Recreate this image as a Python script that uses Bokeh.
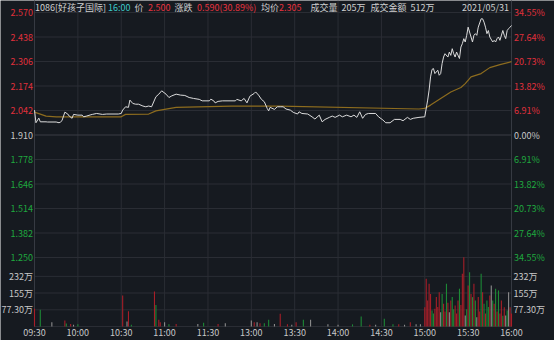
from bokeh.plotting import figure
from bokeh.models import Range1d, ColumnDataSource
from bokeh.core.properties import value
from bokeh.embed import file_html
from bokeh.resources import INLINE

# ---------------- data ----------------
time_ticks = [0, 30, 60, 90, 120, 150, 180, 210, 240, 270, 300, 330]
time_labels = ["09:30", "10:00", "10:30", "11:00", "11:30", "13:00",
               "13:30", "14:00", "14:30", "15:00", "15:30", "16:00"]
prev_close = 1.910
price_ticks = [2.570, 2.438, 2.306, 2.174, 2.042, 1.910, 1.778, 1.646, 1.514, 1.382, 1.250]
price_labels = ["2.570", "2.438", "2.306", "2.174", "2.042", "1.910",
                "1.778", "1.646", "1.514", "1.382", "1.250"]
pct_labels = ["34.55%", "27.64%", "20.73%", "13.82%", "6.91%", "0.00%",
              "6.91%", "13.82%", "20.73%", "27.64%", "34.55%"]
vol_ticks = [77.3, 155, 232]          # 万
vol_labels = ["77.30万", "155万", "232万"]

price_min = [0, 1, 3, 4, 8, 9, 15, 17, 18, 19, 21, 23, 24, 26, 27, 30, 33, 34, 36, 39,
             40, 43, 47, 50, 58, 60, 61, 63, 65, 66, 68, 70, 72, 75, 77, 79, 81, 84, 86, 88,
             91, 93, 95, 98, 101, 104, 107, 110, 114, 116, 121, 122, 124, 125, 127, 130, 139, 140, 143, 145,
             147, 149, 152, 153, 155, 157, 159, 161, 162, 163, 166, 168, 170, 172, 174, 177, 179, 182, 183, 185,
             189, 192, 194, 197, 199, 201, 204, 206, 208, 211, 213, 216, 219, 221, 223, 225, 227, 229, 231, 236,
             238, 241, 243, 246, 249, 253, 255, 258, 260, 262, 266, 270, 272, 273, 274, 275, 276, 277, 279, 280,
             281, 282, 283, 284, 286, 287, 288, 289, 290, 291, 292, 294, 295, 296, 297, 298, 299, 300, 302, 303,
             304, 305, 306, 307, 309, 310, 311, 312, 313, 314, 315, 317, 318, 319, 320, 321, 322, 324, 325, 326,
             327, 328, 329, 330]
price_val = [2.044, 1.976, 2.001, 1.981, 1.981, 1.980, 1.980, 1.976, 1.980, 1.987, 2.033, 2.023, 2.012, 2.000, 2.021, 2.017, 2.017, 2.008, 2.012, 2.019,
             2.021, 2.026, 2.021, 2.023, 2.023, 2.026, 2.044, 2.062, 2.059, 2.098, 2.080, 2.076, 2.076, 2.066, 2.062, 2.066, 2.062, 2.116, 2.130, 2.148,
             2.130, 2.112, 2.121, 2.130, 2.125, 2.123, 2.112, 2.107, 2.102, 2.094, 2.094, 2.103, 2.094, 2.083, 2.091, 2.094, 2.094, 2.102, 2.094, 2.107,
             2.083, 2.119, 2.134, 2.142, 2.125, 2.102, 2.089, 2.053, 2.040, 2.059, 2.048, 2.062, 2.062, 2.062, 2.050, 2.044, 2.032, 2.023, 2.035, 2.026,
             2.023, 2.008, 1.996, 2.017, 1.981, 1.994, 2.005, 2.012, 2.005, 2.017, 2.008, 2.017, 2.008, 2.017, 2.005, 2.035, 2.000, 2.021, 2.026, 2.026,
             2.008, 1.991, 1.976, 1.976, 1.994, 1.994, 1.987, 2.005, 1.994, 2.000, 2.005, 2.008, 2.098, 2.152, 2.223, 2.263, 2.268, 2.241, 2.259, 2.232,
             2.241, 2.295, 2.330, 2.348, 2.330, 2.357, 2.339, 2.375, 2.348, 2.330, 2.357, 2.322, 2.384, 2.402, 2.429, 2.411, 2.447, 2.491, 2.438, 2.411,
             2.447, 2.456, 2.447, 2.491, 2.536, 2.536, 2.518, 2.491, 2.456, 2.473, 2.438, 2.411, 2.420, 2.411, 2.429, 2.438, 2.420, 2.473, 2.447, 2.429,
             2.473, 2.483, 2.491, 2.500]

avg_min = [0, 8, 15, 60, 63, 79, 84, 98, 136, 170, 266, 270, 274, 281, 288, 295, 298, 302, 309, 315, 322, 330]
avg_val = [2.033, 2.012, 2.008, 2.008, 2.021, 2.023, 2.040, 2.059, 2.066, 2.066, 2.050, 2.053, 2.071, 2.107, 2.142, 2.166, 2.187, 2.223, 2.241, 2.273, 2.289, 2.305]

vol_min = [0, 4, 12, 21, 22, 25, 27, 30, 61, 64, 65, 67, 83, 84, 86, 87, 90, 93, 98, 113,
           117, 127, 132, 150, 152, 154, 156, 159, 162, 166, 170, 175, 178, 181, 186, 191, 203, 210, 220, 226,
           232, 236, 242, 248, 252, 256, 260, 264, 267,
           270, 271, 272, 273, 274, 275, 276, 277, 278, 279, 280, 281, 282, 283, 284, 285, 286, 287, 288, 289,
           290, 291, 292, 293, 294, 295, 296, 297, 298, 299, 300, 301, 302, 303, 304, 305, 306, 307, 308, 309,
           310, 311, 312, 313, 314, 315, 316, 317, 318, 319, 320, 321, 322, 323, 324, 325, 326, 327, 328, 329, 330]
vol_val = [82, 77, 20, 28, 14, 12, 8, 10, 143, 23, 71, 8, 162, 100, 31, 20, 20, 10, 12, 12,
           17, 12, 15, 28, 20, 20, 15, 15, 31, 12, 59, 10, 8, 20, 31, 31, 10, 8, 10, 46,
           8, 8, 36, 10, 10, 8, 20, 10, 10,
           89, 221, 120, 198, 151, 74, 60, 82, 136, 90, 159, 66, 151, 105, 70, 198, 110, 66, 120, 136,
           80, 97, 60, 120, 175, 100, 244, 320, 51, 80, 190, 251, 151, 136, 198, 120, 43, 136, 70, 244,
           159, 105, 60, 120, 90, 143, 190, 120, 105, 175, 70, 167, 60, 120, 50, 89, 51, 74, 159, 89, 60]
vol_dir = [1, -1, 0, 1, -1, 1, 0, -1, 1, 0, 1, -1, 1, -1, 1, 1, 0, -1, 1, 0,
           -1, 1, 0, 0, 1, 0, 1, -1, -1, 0, 1, 1, 0, 1, -1, 0, 0, 0, -1, -1,
           1, 0, -1, -1, 1, 0, 1, 0, 0,
           1, 1, 1, 1, 1, -1, -1, 1, 1, 1, 1, 0, -1, 1, 1, -1, 1, 0, 1, -1,
           -1, 1, 1, 1, -1, 1, 1, 1, 0, -1, 1, -1, 1, -1, 1, -1, 0, 1, 1, -1,
           1, -1, 1, -1, -1, 1, 0, -1, 1, -1, 1, -1, 1, 1, -1, 1, 0, -1, 0, 1, 1]

header = [("1086[好孩子国际]", "#d0d0d0", 34.5), ("16:00", "#3cc8c8", 107.5),
          ("价", "#d0d0d0", 134), ("2.500", "#e8323e", 147.5),
          ("涨跌", "#d0d0d0", 174), ("0.590(30.89%)", "#e8323e", 196.5),
          ("均价", "#d0d0d0", 260.5), ("2.305", "#e8323e", 278.5),
          ("成交量", "#d0d0d0", 310), ("205万", "#d0d0d0", 341),
          ("成交金额", "#d0d0d0", 370), ("512万", "#d0d0d0", 410)]
date_text = "2021/05/31"

# ---------------- layout ----------------
W, H = 554, 340
L, R = 34, 511               # pixel columns of 09:30 and 16:00
Y_TOP, Y_BOT = 12, 257       # pixel rows of top and bottom price ticks
V0, V1 = 326, 309.3          # pixel rows of volume 0 and first volume tick

k = (R - L) / 330.0
s = (price_ticks[0] - price_ticks[-1]) / (Y_BOT - Y_TOP)
v = vol_ticks[0] / (V0 - V1)

def px_x(x):
    return (x - L) / k

def py_p(y):
    return price_ticks[0] + (Y_TOP - y) * s

def py_v(y):
    return (V0 - y) * v

BG = "#161a20"
GRID = "#2a2d34"
RED = "#e0303c"
GREEN = "#1fa83f"
GRAY = "#c8c8c8"
FONT = value("Noto Sans CJK SC")
FS = "9px"

p = figure(width=W, height=H, output_backend="svg", toolbar_location=None,
           x_range=Range1d(px_x(0), px_x(W)), y_range=Range1d(py_p(H), py_p(0)),
           x_axis_location=None, y_axis_location=None, min_border=0,
           background_fill_color=BG, border_fill_color=BG, outline_line_color=None)
p.extra_y_ranges = {"vol": Range1d(py_v(H), py_v(0))}
p.xgrid.visible = False
p.ygrid.visible = False

# grids
p.segment(x0=time_ticks, x1=time_ticks, y0=[py_p(0)] * len(time_ticks),
          y1=[py_p(V0)] * len(time_ticks), line_color=GRID, line_width=1)
p.segment(x0=[0] * len(price_ticks), x1=[330] * len(price_ticks), y0=price_ticks, y1=price_ticks,
          line_color=[("#3a3d44" if t == prev_close else GRID) for t in price_ticks], line_width=1)
vg = [0] + vol_ticks
p.segment(x0=[0] * len(vg), x1=[330] * len(vg), y0=vg, y1=vg, y_range_name="vol",
          line_color=GRID, line_width=1)
p.segment(x0=[0, 330], x1=[0, 330], y0=[py_p(0)] * 2, y1=[py_p(V0)] * 2,
          line_color="#363a42", line_width=1)

# volume bars
vcol = {1: "#a81e28", -1: "#1d8a36", 0: "#8e8e8e"}
vsrc = ColumnDataSource(dict(m=vol_min, v=vol_val, c=[vcol[d] for d in vol_dir]))
p.vbar(x="m", top="v", bottom=0, width=0.75, source=vsrc, y_range_name="vol",
       fill_color="c", line_color=None)

# price and average lines
p.line(avg_min, avg_val, line_color="#8d6c1e", line_width=1.2)
p.line(price_min, price_val, line_color="#dcdcdc", line_width=1)

# axis labels
def tcol(t):
    if abs(t - prev_close) < 1e-9:
        return GRAY
    return RED if t > prev_close else GREEN

lsrc = ColumnDataSource(dict(y=price_ticks, t=price_labels, pt=pct_labels,
                             c=[tcol(t) for t in price_ticks]))
p.text(x=px_x(32.5), y="y", text="t", source=lsrc, text_color="c", text_align="right",
       text_baseline="middle", text_font=FONT, text_font_size=FS)
p.text(x=px_x(513.5), y="y", text="pt", source=lsrc, text_color="c", text_align="left",
       text_baseline="middle", text_font=FONT, text_font_size=FS)

p.text(x=px_x(32.5), y=vol_ticks, text=vol_labels, y_range_name="vol", text_color=GRAY,
       text_align="right", text_baseline="middle", text_font=FONT, text_font_size=FS)
p.text(x=px_x(513), y=vol_ticks, text=vol_labels, y_range_name="vol", text_color=GRAY,
       text_align="left", text_baseline="middle", text_font=FONT, text_font_size=FS)

p.text(x=time_ticks, y=py_v(331.7), text=time_labels, y_range_name="vol", text_color=GRAY,
       text_align="center", text_baseline="middle", text_font=FONT, text_font_size=FS)

# header
p.text(x=[px_x(h[2]) for h in header], y=py_p(6.5), text=[h[0] for h in header],
       text_color=[h[1] for h in header], text_align="left", text_baseline="middle",
       text_font=FONT, text_font_size=FS)
p.text(x=px_x(508.5), y=py_p(6.5), text=[date_text], text_color="#d0d0d0",
       text_align="right", text_baseline="middle", text_font=FONT, text_font_size=FS)

open("out.html", "w").write(file_html(p, INLINE))
